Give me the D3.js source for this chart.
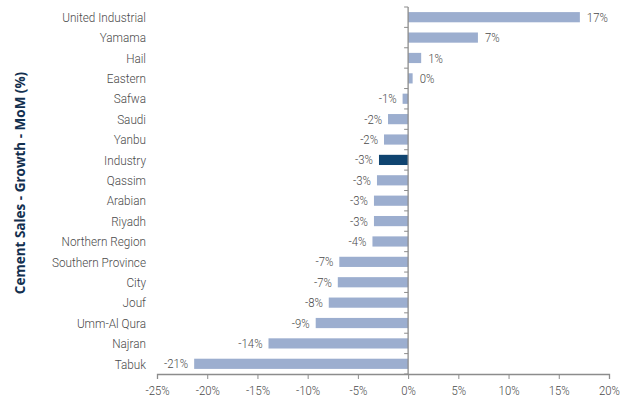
<!DOCTYPE html>
<html>
<head>
<meta charset="utf-8">
<script src="https://cdn.jsdelivr.net/npm/d3@7"></script>
<style>
  body { margin: 0; background: #fff; }
  svg text { font-family: Roboto, "Liberation Sans Narrow", sans-serif; font-weight: 300; }
</style>
</head>
<body>
<div id="chart"></div>
<script>
const companies = ["United Industrial", "Yamama", "Hail", "Eastern", "Safwa", "Saudi", "Yanbu",
  "Industry", "Qassim", "Arabian", "Riyadh", "Northern Region", "Southern Province", "City",
  "Jouf", "Umm-Al Qura", "Najran", "Tabuk"];
const growth = [17.1, 6.95, 1.3, 0.45, -0.55, -2.0, -2.4, -2.9, -3.1, -3.4, -3.4, -3.55, -6.85, -7.0,
  -7.9, -9.2, -13.9, -21.3];
const xTicks = [-25, -20, -15, -10, -5, 0, 5, 10, 15, 20];
const highlight = "Industry";

const width = 630;
const height = 406;
const margin = { top: 7, right: 21, bottom: 32, left: 157 };
const squeeze = 0.87; // condensed look of the original typeface

const svg = d3.select("#chart").append("svg")
  .attr("width", width)
  .attr("height", height);

const x = d3.scaleLinear().domain([-25, 20]).range([margin.left, width - margin.right]);
const y = d3.scaleBand().domain(companies).range([margin.top, height - margin.bottom]).paddingInner(0.5).paddingOuter(0.25);

const axisColor = "#8c8c8c";
const textColor = "#4a4a4a";

// bars
svg.selectAll("rect.bar")
  .data(companies)
  .join("rect")
  .attr("class", "bar")
  .attr("x", (d, i) => x(Math.min(0, growth[i])))
  .attr("y", d => y(d))
  .attr("width", (d, i) => Math.abs(x(growth[i]) - x(0)))
  .attr("height", y.bandwidth())
  .attr("fill", d => d === highlight ? "#0f4470" : "#9caecf");

// value labels
svg.selectAll("text.val")
  .data(companies)
  .join("text")
  .attr("class", "val")
  .attr("transform", (d, i) => {
    const tx = growth[i] >= 0 ? x(growth[i]) + 7 : x(growth[i]) - 6;
    return `translate(${tx},${y(d) + y.bandwidth() / 2}) scale(${squeeze},1)`;
  })
  .attr("dy", "0.35em")
  .attr("text-anchor", (d, i) => growth[i] >= 0 ? "start" : "end")
  .attr("font-size", 13)
  .attr("fill", textColor)
  .text((d, i) => Math.round(growth[i]) + "%");

// category labels
svg.selectAll("text.cat")
  .data(companies)
  .join("text")
  .attr("class", "cat")
  .attr("transform", d => `translate(${margin.left - 11},${y(d) + y.bandwidth() / 2}) scale(${squeeze},1)`)
  .attr("dy", "0.35em")
  .attr("text-anchor", "end")
  .attr("font-size", 13.5)
  .attr("fill", textColor)
  .text(d => d);

// vertical zero axis with ticks at category boundaries
const step = y.step();
const bounds = d3.range(companies.length + 1).map(i => margin.top + i * step);
svg.append("line")
  .attr("x1", x(0)).attr("x2", x(0))
  .attr("y1", margin.top).attr("y2", height - margin.bottom)
  .attr("stroke", axisColor).attr("stroke-width", 1.3);
svg.selectAll("line.ytick")
  .data(bounds)
  .join("line")
  .attr("class", "ytick")
  .attr("x1", x(0) - 4).attr("x2", x(0))
  .attr("y1", d => d).attr("y2", d => d)
  .attr("stroke", axisColor);

// x axis
const xAxis = svg.append("g")
  .attr("transform", `translate(0,${height - margin.bottom})`)
  .call(d3.axisBottom(x).tickValues(xTicks).tickSize(5).tickPadding(7).tickFormat(d => d + "%"));
xAxis.select(".domain").attr("stroke", axisColor).attr("stroke-width", 1.3);
xAxis.selectAll(".tick line").attr("stroke", axisColor);
xAxis.selectAll(".tick text")
  .attr("transform", `scale(${squeeze},1)`)
  .attr("x", 0)
  .attr("font-size", 13)
  .attr("fill", textColor)
  .style("font-family", "Roboto, sans-serif")
  .style("font-weight", 300);

// y axis title
svg.append("text")
  .attr("transform", `translate(25,183) rotate(-90)`)
  .attr("text-anchor", "middle")
  .attr("font-size", 13.5)
  .attr("fill", "#13304f")
  .style("font-family", "'Open Sans', sans-serif")
  .style("font-weight", 700)
  .text("Cement Sales - Growth - MoM (%)");
</script>
</body>
</html>
